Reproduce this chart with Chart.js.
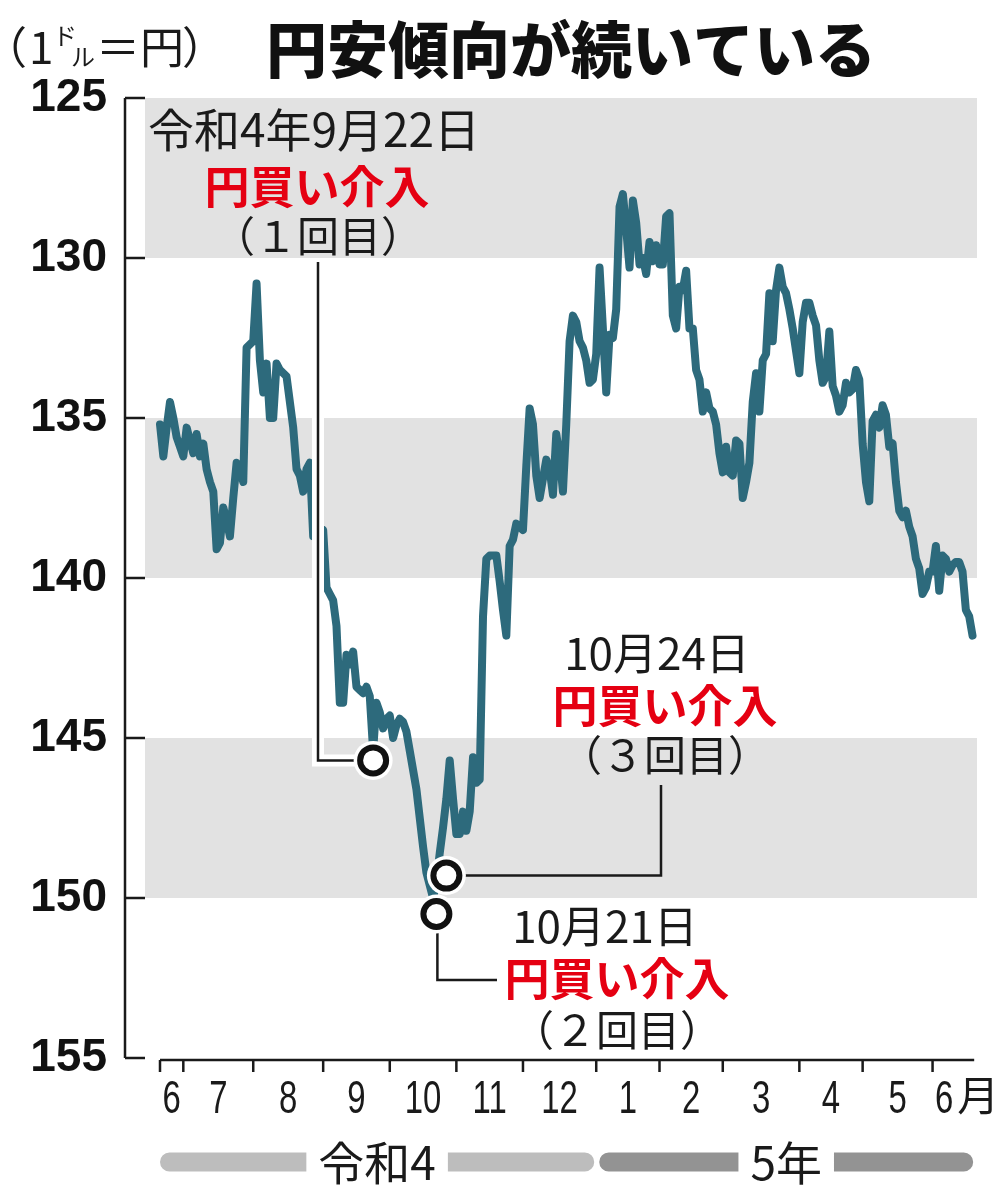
<!DOCTYPE html>
<html lang="ja">
<head>
<meta charset="utf-8">
<title>円安傾向が続いている</title>
<script src="https://cdn.jsdelivr.net/npm/chart.js@4/dist/chart.umd.min.js"></script>
<style>
  html, body { margin: 0; padding: 0; background: #fff; }
  canvas { display: block; }
</style>
</head>
<body>
<canvas id="yen" width="1003" height="1200"></canvas>
<script>
// 1ドル＝円, one value per trading day, 2022-06 .. 2023-06
const usdjpy = [
  135.2, 136.2, 135.3, 134.5, 135.0, 135.6, 135.9, 136.2, 135.3, 135.7,
  136.1, 135.5, 136.2, 135.8, 136.6, 137.0, 137.3, 139.1, 138.9, 137.8,
  138.2, 138.7, 137.5, 136.4, 136.6, 137.0, 132.8, 132.7, 132.6, 130.8,
  133.2, 134.2, 133.3, 135.0, 135.0, 133.3, 133.5, 133.6, 133.7, 134.5,
  135.3, 136.6, 136.8, 137.3, 136.6, 136.4, 138.7, 138.6, 138.6, 138.5,
  140.3, 140.5, 140.7, 141.5, 143.9, 143.9, 142.4, 142.7, 142.3, 143.4,
  143.5, 143.6, 143.4, 143.7, 145.4, 143.9, 144.2, 144.7, 144.4, 144.3,
  145.0, 144.6, 144.4, 144.5, 144.8, 145.4, 146.0, 146.6, 147.5, 148.4,
  149.2, 149.6, 150.0, 149.5, 148.6, 147.8, 146.9, 145.7, 146.9, 148.0,
  148.0, 147.3, 147.9, 147.3, 145.6, 146.4, 146.3, 141.2, 139.4, 139.3,
  139.3, 139.3, 140.1, 141.0, 141.8, 139.0, 138.8, 138.3, 138.4, 138.5,
  136.5, 134.7, 135.2, 136.8, 137.5, 136.9, 136.3, 136.6, 137.4, 135.5,
  136.2, 137.3, 135.2, 132.6, 131.8, 132.0, 132.6, 132.8, 133.2, 133.9,
  133.8, 133.0, 130.3, 132.2, 134.2, 132.4, 132.5, 131.6, 128.4, 128.0,
  129.1, 130.3, 128.2, 128.9, 130.2, 130.0, 130.5, 129.5, 130.1, 129.6,
  130.2, 130.2, 128.7, 128.6, 131.8, 132.2, 130.9, 131.0, 130.4, 132.2,
  132.2, 133.5, 133.8, 134.8, 134.2, 134.7, 134.8, 135.2, 136.1, 136.7,
  135.9, 136.7, 136.8, 135.7, 135.8, 137.5, 137.0, 136.4, 134.5, 133.6,
  134.8, 133.2, 133.0, 131.1, 132.6, 131.0, 130.3, 130.9, 131.1, 131.6,
  132.2, 132.9, 133.6, 132.0, 131.4, 131.4, 131.8, 132.1, 133.2, 133.9,
  133.7, 132.3, 134.0, 134.3, 134.8, 134.6, 133.9, 134.2, 134.1, 133.5,
  133.8, 135.8, 137.0, 137.6, 135.1, 134.9, 135.3, 134.6, 134.9, 135.9,
  135.8, 137.0, 137.9, 138.1, 137.9, 138.4, 138.7, 139.4, 139.7, 140.5,
  140.3, 139.8, 139.8, 139.0, 140.4, 139.3, 139.4, 139.8, 139.6, 139.5,
  139.5, 139.8, 141.0, 141.2, 141.8
];

// index of the first trading day of each month
const monthStarts = [0, 7, 28, 49, 69, 89, 109, 131, 150, 169, 192, 211, 232];
const monthLabels = ['6', '7', '8', '9', '10', '11', '12', '1', '2', '3', '4', '5', '6'];
const axisEnd = 244.5;

const yTicks = [125, 130, 135, 140, 145, 150, 155];
const bands = [[125, 130], [135, 140], [145, 150]];

// 円買い介入 (1回目 9/22, 2回目 10/21, 3回目 10/24)
const hitX = [64, 83, 86];
const hitY = [145.7, 150.5, 149.3];

const eraLabels = ['令和4', '5年'];
const eraStarts = [monthStarts[0], monthStarts[7]];

const JP = '"Noto Sans CJK JP", "Noto Sans", sans-serif';
const NUM = '"Liberation Sans", Arial, sans-serif';
const INK = '#1a1a1a';
const RED = '#e50012';

function txt(ctx, s, x, y, font, color, align) {
  ctx.font = font;
  ctx.fillStyle = color || INK;
  ctx.textAlign = align || 'center';
  ctx.textBaseline = 'middle';
  ctx.fillText(s, x, y);
}

function polyline(ctx, pts, color, w) {
  ctx.beginPath();
  ctx.moveTo(pts[0][0], pts[0][1]);
  pts.slice(1).forEach(p => ctx.lineTo(p[0], p[1]));
  ctx.strokeStyle = color;
  ctx.lineWidth = w;
  ctx.stroke();
}

const yenDecor = {
  id: 'yenDecor',
  beforeDatasetsDraw(chart) {
    const { ctx, chartArea: a, scales: { y } } = chart;
    ctx.save();
    ctx.fillStyle = '#e2e2e2';
    bands.forEach(([lo, hi]) => {
      const t = y.getPixelForValue(lo), b = y.getPixelForValue(hi);
      ctx.fillRect(a.left, t, a.right - a.left, b - t);
    });
    ctx.restore();
  },
  // leader lines go above the price line but under the circles
  beforeDatasetDraw(chart, args) {
    if (args.index !== 1) return;
    const { ctx, scales: { x, y } } = chart;
    const p = hitX.map((v, i) => [x.getPixelForValue(v), y.getPixelForValue(hitY[i])]);
    ctx.save();
    ctx.lineCap = 'butt';
    ctx.lineJoin = 'miter';
    const l1 = [[p[0][0], p[0][1]], [318, p[0][1]], [318, 262]];
    polyline(ctx, l1, '#fff', 12);
    polyline(ctx, l1, INK, 2.5);
    polyline(ctx, [[p[1][0] + 1, p[1][1]], [p[1][0] + 1, 980], [497, 980]], INK, 2.5);
    polyline(ctx, [[p[2][0], p[2][1]], [661, p[2][1]], [661, 785]], INK, 2.5);
    ctx.restore();
  },
  afterDraw(chart) {
    const { ctx, chartArea: a, scales: { x, y } } = chart;
    ctx.save();

    // y axis line with inward ticks
    const ax = a.left - 20;
    ctx.strokeStyle = INK;
    ctx.lineWidth = 2.5;
    ctx.beginPath();
    ctx.moveTo(ax, y.getPixelForValue(yTicks[0]));
    ctx.lineTo(ax, y.getPixelForValue(yTicks[yTicks.length - 1]));
    yTicks.forEach(v => {
      const py = y.getPixelForValue(v);
      ctx.moveTo(ax, py);
      ctx.lineTo(a.left, py);
    });
    ctx.stroke();

    // x axis: month boundaries
    const by = y.getPixelForValue(155) + 2;
    ctx.beginPath();
    ctx.moveTo(x.getPixelForValue(0), by);
    ctx.lineTo(x.getPixelForValue(axisEnd), by);
    monthStarts.forEach(m => {
      const px = x.getPixelForValue(m);
      ctx.moveTo(px, by);
      ctx.lineTo(px, by + 12);
    });
    ctx.stroke();

    // month labels, condensed digits
    ctx.font = '47px ' + NUM;
    ctx.fillStyle = INK;
    ctx.textAlign = 'center';
    ctx.textBaseline = 'alphabetic';
    let lastRight = 0;
    monthLabels.forEach((lab, k) => {
      const s = monthStarts[k];
      const mid = k < monthStarts.length - 1 ? (s + monthStarts[k + 1]) / 2 : s + 3.5;
      const px = x.getPixelForValue(mid);
      ctx.save();
      ctx.translate(px, by + 53);
      ctx.scale(0.7, 1);
      ctx.fillText(lab, 0, 0);
      ctx.restore();
      lastRight = px + ctx.measureText(lab).width * 0.7 / 2;
    });
    ctx.font = '42px ' + JP;
    ctx.textAlign = 'left';
    ctx.fillText('月', lastRight + 4, by + 51);

    // era bars
    const barY = 1162, barH = 19, r = barH / 2;
    const eraColors = ['#bdbdbd', '#939393'];
    eraLabels.forEach((lab, k) => {
      const x0 = x.getPixelForValue(eraStarts[k]) + (k ? 3 : 0);
      const x1 = k < eraStarts.length - 1 ? x.getPixelForValue(eraStarts[k + 1]) - 2 : x.getPixelForValue(axisEnd - 0.3);
      ctx.font = '46px ' + JP;
      const w = ctx.measureText(lab).width;
      const c = (x0 + x1) / 2;
      ctx.fillStyle = eraColors[k];
      ctx.beginPath();
      ctx.roundRect(x0, barY - r, c - w / 2 - 12 - x0, barH, [r, 0, 0, r]);
      ctx.roundRect(c + w / 2 + 12, barY - r, x1 - (c + w / 2 + 12), barH, [0, r, r, 0]);
      ctx.fill();
      txt(ctx, lab, c, barY + 1, '46px ' + JP, INK);
    });

    // title and unit
    txt(ctx, '円安傾向が続いている', 571, 50, '900 61px ' + JP, '#111');
    txt(ctx, '（', -17, 47, '44px ' + JP, INK, 'left');
    txt(ctx, '1', 29, 47, '44px ' + JP, INK, 'left');
    txt(ctx, 'ド', 53, 36, '24px ' + JP, INK, 'left');
    txt(ctx, 'ル', 71, 57, '24px ' + JP, INK, 'left');
    txt(ctx, '＝', 96, 47, '44px ' + JP, INK, 'left');
    txt(ctx, '円', 140, 47, '44px ' + JP, INK, 'left');
    txt(ctx, '）', 182, 47, '44px ' + JP, INK, 'left');

    // intervention notes
    txt(ctx, '令和4年9月22日', 314, 130, '46px ' + JP);
    txt(ctx, '円買い介入', 317, 187, 'bold 45px ' + JP, RED);
    txt(ctx, '（１回目）', 318, 236, '42px ' + JP);

    txt(ctx, '10月24日', 657, 653, '44px ' + JP);
    txt(ctx, '円買い介入', 665, 706, 'bold 45px ' + JP, RED);
    txt(ctx, '（３回目）', 665, 755, '42px ' + JP);

    txt(ctx, '10月21日', 605, 926, '44px ' + JP);
    txt(ctx, '円買い介入', 617, 979, 'bold 45px ' + JP, RED);
    txt(ctx, '（２回目）', 617, 1030, '42px ' + JP);

    ctx.restore();
  }
};

new Chart(document.getElementById('yen'), {
  type: 'line',
  data: {
    datasets: [
      {
        data: hitX.map((v, i) => ({ x: v, y: hitY[i] })),
        showLine: false,
        pointRadius: 13,
        pointBorderWidth: 6,
        pointBorderColor: '#111',
        pointBackgroundColor: '#fff',
        order: 0
      },
      {
        data: hitX.map((v, i) => ({ x: v, y: hitY[i] })),
        showLine: false,
        pointRadius: 19.5,
        pointBorderWidth: 0,
        pointBackgroundColor: '#fff',
        order: 1
      },
      {
        data: usdjpy.map((v, i) => ({ x: i, y: v })),
        borderColor: '#2d6a7c',
        borderWidth: 8,
        borderJoinStyle: 'round',
        borderCapStyle: 'round',
        pointRadius: 0,
        tension: 0,
        order: 2
      }
    ]
  },
  options: {
    responsive: false,
    animation: false,
    devicePixelRatio: 1,
    events: [],
    layout: { padding: { top: 98, right: 26, bottom: 142, left: 0 } },
    plugins: { legend: { display: false }, tooltip: { enabled: false } },
    scales: {
      x: { type: 'linear', display: false, min: -4.505, max: 245.345 },
      y: {
        type: 'linear',
        reverse: true,
        min: 125,
        max: 155,
        grid: { display: false, drawTicks: false },
        border: { display: false },
        ticks: {
          stepSize: 5,
          padding: 38,
          color: '#111',
          font: { family: NUM, weight: 'bold', size: 46 }
        },
        afterFit(scale) { scale.width = 145; }
      }
    }
  },
  plugins: [yenDecor]
});
</script>
</body>
</html>
